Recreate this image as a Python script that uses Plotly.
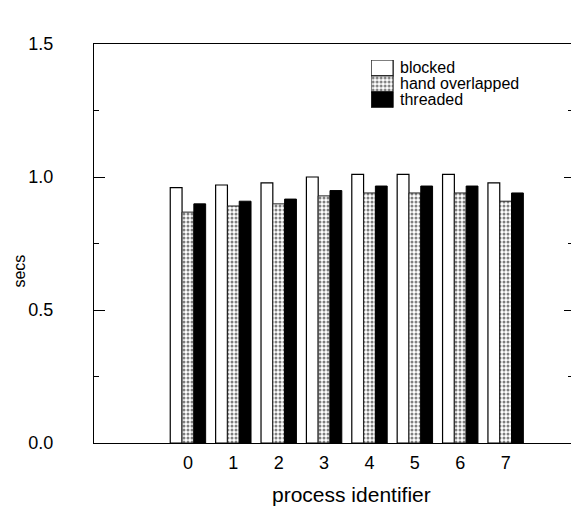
import plotly.graph_objects as go

processes = [0, 1, 2, 3, 4, 5, 6, 7]
blocked = [0.96, 0.97, 0.978, 1.0, 1.01, 1.01, 1.01, 0.978]
hand_overlapped = [0.868, 0.891, 0.899, 0.929, 0.94, 0.94, 0.94, 0.909]
threaded = [0.899, 0.909, 0.917, 0.949, 0.966, 0.966, 0.966, 0.94]
series_names = ["blocked", "hand overlapped", "threaded"]
y_ticks = [0.0, 0.5, 1.0, 1.5]
y_tick_text = ["0.0", "0.5", "1.0", "1.5"]

FONT = "Liberation Sans, Arial, Helvetica, sans-serif"

white_style = dict(color="white", line=dict(color="black", width=1.2))
dot_style = dict(color="white", line=dict(color="#222", width=1),
                 pattern=dict(shape=".", fgcolor="black", bgcolor="white",
                              size=4, solidity=0.45))
black_style = dict(color="black", line=dict(color="black", width=1))

fig = go.Figure()
fig.add_trace(go.Bar(x=processes, y=blocked, name=series_names[0],
                     marker=white_style, showlegend=False))
fig.add_trace(go.Bar(x=processes, y=hand_overlapped, name=series_names[1],
                     marker=dot_style, showlegend=False))
fig.add_trace(go.Bar(x=processes, y=threaded, name=series_names[2],
                     marker=black_style, showlegend=False))

# invisible trace to carry the right-hand tick axis
fig.add_trace(go.Scatter(x=[processes[0]], y=[0], yaxis="y2", mode="markers",
                         marker=dict(opacity=0), showlegend=False, hoverinfo="skip"))

# legend key: stacked swatches drawn on a small auxiliary subplot
legend_styles = [white_style, dot_style, black_style]
for i, (nm, st) in enumerate(zip(series_names, legend_styles)):
    row = len(series_names) - 1 - i  # blocked on top
    fig.add_trace(go.Bar(x=[0.5], y=[1], base=[row], width=[1], marker=st,
                         xaxis="x3", yaxis="y3", offsetgroup="key",
                         showlegend=False, hoverinfo="skip"))
    fig.add_annotation(text=nm, x=1.2, y=row + 0.5, xref="x3", yref="y3",
                       xanchor="left", yanchor="middle", showarrow=False,
                       font=dict(size=16, family=FONT))

fig.update_layout(
    width=585, height=512,
    margin=dict(l=86, r=22, t=36, b=77, autoexpand=False),
    paper_bgcolor="white", plot_bgcolor="white",
    font=dict(family=FONT, size=18, color="black"),
    barmode="group", bargap=0.22, bargroupgap=0.0,
    showlegend=False,
    xaxis=dict(range=[-2.07, 8.44], tickvals=processes,
               ticktext=[str(p) for p in processes], automargin=False,
               showline=True, linecolor="black", linewidth=1.3, mirror=True,
               ticks="", showgrid=False, zeroline=False,
               ticklabelstandoff=3, tickfont=dict(size=18)),
    yaxis=dict(range=[0, 1.5], tickvals=y_ticks, ticktext=y_tick_text,
               automargin=False,
               showline=True, linecolor="black", linewidth=1.3,
               ticks="inside", ticklen=11, tickwidth=1.3, tickcolor="black",
               minor=dict(dtick=0.25, ticks="inside", ticklen=5, tickcolor="black", tickwidth=1),
               showgrid=False, zeroline=False, ticklabelstandoff=36,
               tickfont=dict(size=18)),
    yaxis2=dict(range=[0, 1.5], overlaying="y", side="right", automargin=False,
                tickvals=y_ticks, showticklabels=False, showline=False,
                ticks="inside", ticklen=7, tickwidth=1.3, tickcolor="black",
                minor=dict(dtick=0.25, ticks="inside", ticklen=3, tickcolor="black", tickwidth=1),
                showgrid=False, zeroline=False),
    xaxis3=dict(domain=[0.581, 0.95], range=[0, 8.0], visible=False,
                fixedrange=True, anchor="y3"),
    yaxis3=dict(domain=[0.84, 0.96], range=[0, 3], visible=False,
                fixedrange=True, anchor="x3"),
    annotations=list(fig.layout.annotations) + [
        dict(text="process identifier", x=3.61, xref="x",
             y=-0.13, yref="paper", yanchor="middle", showarrow=False,
             font=dict(size=21, family=FONT)),
        dict(text="secs", x=-0.157, xref="paper", y=0.43, yref="paper",
             textangle=-90, xanchor="center", yanchor="middle", showarrow=False,
             font=dict(size=16, family=FONT)),
    ],
)

fig.write_html("out.html")
